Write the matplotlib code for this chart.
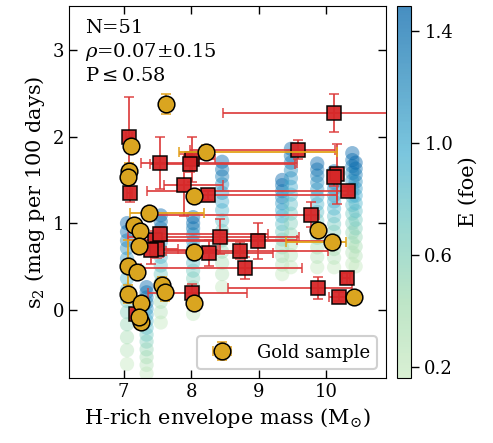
import matplotlib
matplotlib.use('Agg')
import matplotlib.pyplot as plt
import matplotlib.colors as mcolors
import numpy as np

plt.rcParams['font.family'] = ['DejaVu Serif']
plt.rcParams['mathtext.fontset'] = 'dejavuserif'

# model grid: one column per envelope mass, one point per explosion energy
model_E = [0.2, 0.3, 0.4, 0.5, 0.6, 0.7, 0.8, 0.9, 1.0, 1.1, 1.2, 1.3, 1.4, 1.5]
model_mass = [7.05, 7.34, 7.55, 8.03, 8.46, 9.35, 9.48, 9.87, 10.12, 10.39, 10.44]
model_s2 = [
    [-0.63, -0.47, -0.32, -0.17, -0.03, 0.10, 0.23, 0.36, 0.48, 0.59, 0.71, 0.80, 0.90, 1.00],
    [-0.74, -0.64, -0.55, -0.46, -0.37, -0.29, -0.21, -0.13, -0.06, 0.01, 0.08, 0.14, 0.20, 0.26],
    [-0.15, -0.03, 0.09, 0.20, 0.31, 0.41, 0.51, 0.61, 0.69, 0.78, 0.87, 0.94, 1.02, 1.09],
    [-0.05, 0.06, 0.16, 0.26, 0.36, 0.45, 0.54, 0.63, 0.71, 0.79, 0.87, 0.94, 1.00, 1.07],
    [0.26, 0.41, 0.54, 0.67, 0.80, 0.91, 1.03, 1.15, 1.25, 1.35, 1.45, 1.54, 1.62, 1.71],
    [0.41, 0.52, 0.62, 0.72, 0.81, 0.90, 0.99, 1.08, 1.15, 1.23, 1.30, 1.37, 1.44, 1.50],
    [0.49, 0.63, 0.75, 0.87, 1.00, 1.11, 1.22, 1.33, 1.42, 1.52, 1.61, 1.70, 1.78, 1.86],
    [0.49, 0.61, 0.72, 0.83, 0.93, 1.03, 1.13, 1.22, 1.31, 1.39, 1.47, 1.55, 1.62, 1.69],
    [0.49, 0.60, 0.70, 0.80, 0.90, 0.99, 1.08, 1.17, 1.25, 1.32, 1.40, 1.47, 1.53, 1.60],
    [0.53, 0.66, 0.77, 0.89, 1.00, 1.11, 1.21, 1.31, 1.40, 1.49, 1.58, 1.66, 1.73, 1.81],
    [0.50, 0.62, 0.73, 0.84, 0.94, 1.04, 1.14, 1.23, 1.32, 1.40, 1.48, 1.56, 1.63, 1.70],
]

# observed SNe (red squares)
red_x = [7.08, 10.12, 9.58, 7.54, 8.02, 7.99, 7.89, 7.09, 8.25, 10.16, 10.12, 10.32, 9.78,
         7.47, 7.54, 7.50, 7.40, 8.43, 8.99, 8.27, 8.73, 8.80, 8.01, 9.88, 10.31, 10.20, 7.18]
red_y = [2.00, 2.27, 1.85, 1.70, 1.74, 1.69, 1.44, 1.35, 1.32, 1.57, 1.53, 1.37, 1.10,
         0.81, 0.88, 0.70, 0.69, 0.845, 0.79, 0.65, 0.68, 0.48, 0.19, 0.25, 0.36, 0.15, -0.05]
red_xlo = [0.05, 1.64, 1.60, 0.29, 0.10, 0.60, 0.29, 0.04, 0.25, 0.05, 0.05, 2.97, 2.40,
           0.40, 0.30, 0.20, 0.20, 1.36, 1.40, 0.68, 1.10, 1.55, 0.65, 1.34, 0.08, 0.15, 0.03]
red_xhi = [0.05, 1.00, 0.55, 2.03, 0.34, 1.55, 0.58, 0.04, 1.92, 0.05, 0.05, 0.10, 0.12,
           2.10, 1.60, 0.31, 1.00, 1.17, 1.03, 0.95, 1.30, 0.85, 0.82, 0.50, 0.05, 0.10, 0.03]
red_yerr = [0.46, 0.22, 0.11, 0.30, 0.26, 0.10, 0.36, 0.10, 0.05, 0.35, 0.10, 0.05, 0.14,
            0.10, 0.08, 0.10, 0.16, 0.20, 0.21, 0.15, 0.10, 0.13, 0.11, 0.13, 0.06, 0.05, 0.05]

# gold sample (yellow circles)
gold_x = [7.63, 7.11, 8.22, 7.08, 7.07, 8.04, 7.38, 7.16, 7.24, 7.23, 8.04, 7.07,
          7.20, 7.07, 7.57, 7.61, 7.26, 8.04, 7.26, 7.23, 9.88, 10.09, 10.41]
gold_y = [2.38, 1.89, 1.82, 1.60, 1.53, 1.31, 1.12, 0.98, 0.91, 0.74, 0.67, 0.50,
          0.44, 0.18, 0.28, 0.20, 0.08, 0.08, -0.14, -0.09, 0.92, 0.78, 0.15]
gold_xlo = [0.06, 0.03, 0.40, 0.03, 0.03, 0.03, 0.28, 0.03, 0.03, 0.03, 0.03, 0.03,
            0.03, 0.03, 0.03, 0.03, 0.03, 0.03, 0.03, 0.03, 0.03, 0.69, 0.03]
gold_xhi = [0.06, 0.03, 1.95, 0.03, 0.03, 0.03, 0.81, 0.03, 0.03, 0.03, 0.03, 0.03,
            0.03, 0.03, 0.03, 0.03, 0.03, 0.03, 0.03, 0.03, 0.03, 0.20, 0.03]
gold_yerr = [0.12, 0.05, 0.08, 0.10, 0.05, 0.05, 0.03, 0.05, 0.05, 0.08, 0.08, 0.30,
             0.05, 0.10, 0.10, 0.10, 0.05, 0.05, 0.05, 0.05, 0.05, 0.03, 0.05]

fig = plt.figure(figsize=(4.93, 4.43), dpi=100)
ax = fig.add_axes([0.140, 0.147, 0.643, 0.839])
cax = fig.add_axes([0.805, 0.147, 0.029, 0.839])

# GnBu, trimmed at both ends
cmap = mcolors.ListedColormap(plt.get_cmap('GnBu')(np.linspace(0.25, 0.87, 256)))
norm = mcolors.Normalize(vmin=0.16, vmax=1.49)

for mass, s2 in zip(model_mass, model_s2):
    ax.scatter([mass] * len(s2), s2, c=model_E, cmap=cmap, norm=norm,
               s=105, alpha=0.45, edgecolors='none', zorder=1)

ax.errorbar(red_x, red_y, xerr=[red_xlo, red_xhi], yerr=red_yerr, fmt='s',
            color='#d62728', ecolor='#dd3c3c', elinewidth=1.3, capsize=3.5,
            markersize=10.5, markeredgecolor='black', markeredgewidth=1.1,
            alpha=0.95, zorder=3)
ax.errorbar(gold_x, gold_y, xerr=[gold_xlo, gold_xhi], yerr=gold_yerr, fmt='o',
            color='goldenrod', ecolor='#e3a21a', elinewidth=1.3, capsize=3.5,
            markersize=12, markeredgecolor='black', markeredgewidth=1.1,
            zorder=4, label='Gold sample')

ax.set_xlim(6.19, 10.89)
ax.set_ylim(-0.79, 3.51)
ax.set_xticks([7, 8, 9, 10])
ax.set_yticks([0, 1, 2, 3])
ax.tick_params(direction='in', top=True, right=True, length=6, width=1, labelsize=13)
ax.set_xlabel(r'H-rich envelope mass (M$_{\odot}$)', fontsize=15)
ax.set_ylabel(r's$_2$ (mag per 100 days)', fontsize=15)

ax.text(0.05, 0.965, 'N=51\n' + r'$\rho$=0.07$\pm$0.15' + '\n' + r'P$\leq$0.58',
        transform=ax.transAxes, va='top', ha='left', fontsize=14, linespacing=1.25)

leg = ax.legend(loc='lower right', fontsize=13, handletextpad=0.9,
                borderpad=0.4, framealpha=1, fancybox=True)
leg.get_frame().set_edgecolor('#d0d0d0')
leg.get_frame().set_linewidth(1.5)

sm = plt.cm.ScalarMappable(norm=norm, cmap=cmap)
cb = fig.colorbar(sm, cax=cax, alpha=0.75)
cb.set_ticks([0.2, 0.6, 1.0, 1.4])
cb.ax.tick_params(labelsize=13, length=6, width=1)
cb.set_label('E (foe)', fontsize=15)

fig.savefig('out.png', dpi=100)
